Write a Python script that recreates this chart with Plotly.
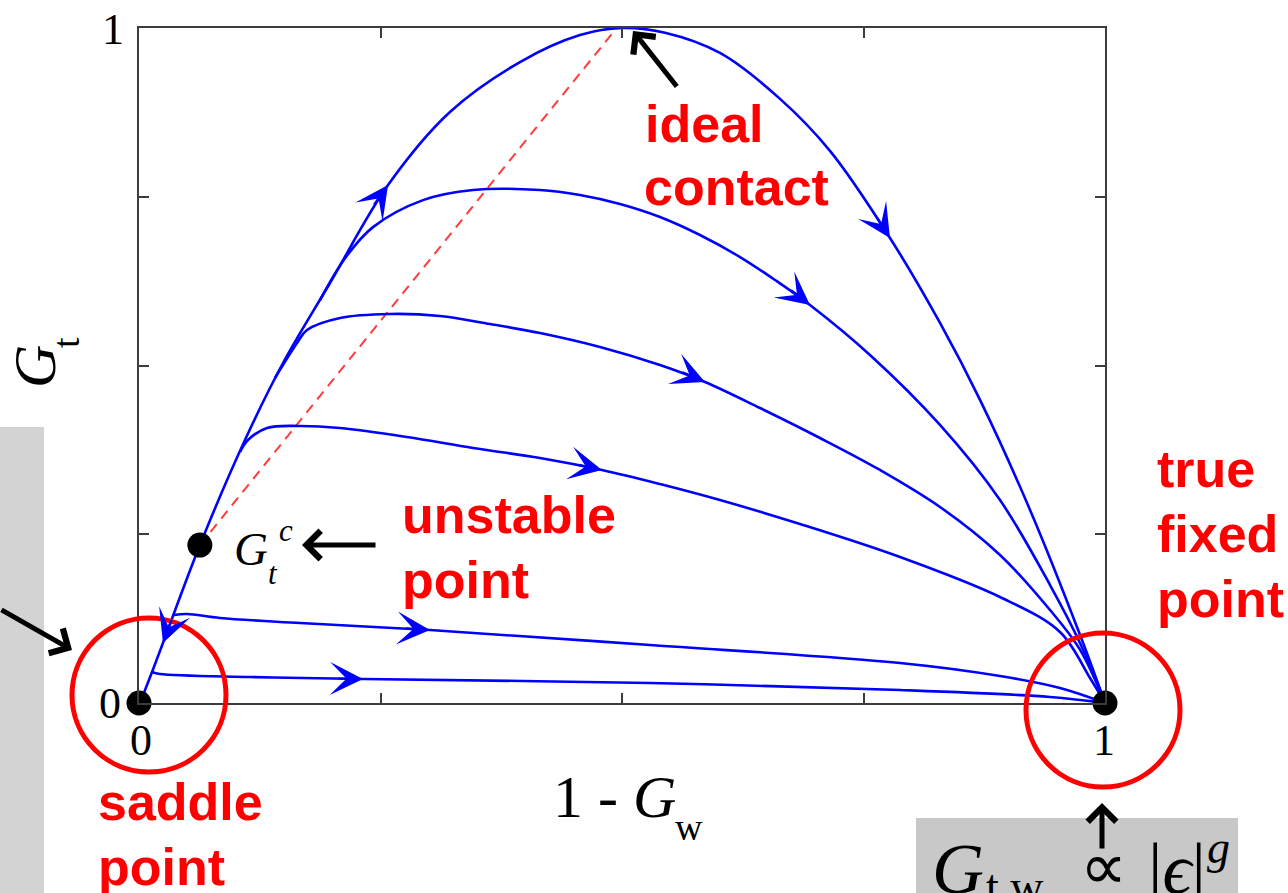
import math
import plotly.graph_objects as go

# ---------------------------------------------------------------- data
# flow trajectories in the (1 - G_w, G_t) plane
sep_x = [0.001, 0.0135, 0.0248, 0.0631, 0.1097, 0.1491, 0.1977, 0.2578, 0.3219,
         0.3944, 0.4565, 0.5, 0.5445, 0.6014, 0.6636, 0.7153, 0.7774, 0.8292,
         0.8706, 0.9224, 0.9741, 1.0]
sep_y = [0.0, 0.046, 0.0889, 0.2341, 0.3896, 0.5037, 0.6222, 0.7674, 0.8756,
         0.9496, 0.9896, 1.0, 0.993, 0.963, 0.895, 0.818, 0.689, 0.563,
         0.449, 0.286, 0.101, 0.0]

flow2_x = [0.1874, 0.2133, 0.2422, 0.294, 0.3458, 0.4151, 0.4565, 0.4979, 0.5393,
           0.5807, 0.6222, 0.6584, 0.6946, 0.7567, 0.8292, 0.8913, 0.9431, 0.9741,
           1.0]
flow2_y = [0.597, 0.659, 0.705, 0.745, 0.760, 0.760, 0.7526, 0.7393, 0.720,
           0.6933, 0.6607, 0.6267, 0.5896, 0.5156, 0.4119, 0.3007, 0.1748, 0.0889,
           0.0]

flow3_x = [0.1408, 0.1636, 0.1739, 0.2081, 0.2598, 0.3116, 0.3634, 0.4151, 0.4772,
           0.5393, 0.5859, 0.6429, 0.705, 0.7671, 0.8292, 0.8913, 0.9431, 0.9741,
           1.0]
flow3_y = [0.4815, 0.5333, 0.5526, 0.5704, 0.5763, 0.5733, 0.5615, 0.5481, 0.5274,
           0.5007, 0.4756, 0.437, 0.3926, 0.3452, 0.2904, 0.2193, 0.1378, 0.079,
           0.0]

flow4_x = [0.1046, 0.1128, 0.1325, 0.1667, 0.2081, 0.2774, 0.3458, 0.4151, 0.4793,
           0.5393, 0.6014, 0.6843, 0.7878, 0.8913, 0.9534, 0.9845, 1.0]
flow4_y = [0.3719, 0.3896, 0.4074, 0.4104, 0.4074, 0.3941, 0.3778, 0.363, 0.3452,
           0.3244, 0.3007, 0.2652, 0.2163, 0.157, 0.1052, 0.037, 0.0]

flow5_x = [0.0362, 0.0497, 0.0839, 0.1667, 0.3012, 0.529, 0.7878, 0.8913, 0.9534,
           1.0]
flow5_y = [0.1304, 0.1319, 0.1259, 0.1185, 0.1081, 0.0859, 0.0593, 0.040, 0.0222,
           0.0]

flow6_x = [0.0135, 0.0217, 0.1149, 0.2319, 0.529, 0.7878, 0.943, 1.0]
flow6_y = [0.0459, 0.043, 0.0385, 0.0356, 0.0296, 0.0193, 0.0089, 0.0]

# fixed points
saddle_pt = (0.0, 0.0)
true_fixed_pt = (1.0, 0.0)
ideal_pt = (0.5, 1.01)
unstable_pt = (0.063, 0.234)

# flow direction markers: (curve, point index, reversed direction)
flow_arrows = [
    ("sep", 7, False), ("sep", 16, False), ("sep", 2, True),
    ("f2", 12, False), ("f3", 10, False), ("f4", 8, False),
    ("f5", 4, False), ("f6", 3, False),
]

# ---------------------------------------------------------------- layout
W, H = 1288, 893
PL, PR, PT, PB = 139, 1105, 28, 703          # plot frame in page pixels
SERIF = "Liberation Serif, Times New Roman, serif"
SANS = "Liberation Sans, Arial, sans-serif"
BLUE = "#0000ff"
RED = "#ff0000"
AXC = "#3c3c3c"


def pp(xp, yp):
    """page pixel -> paper coordinates"""
    return (xp - PL) / (PR - PL), (PB - yp) / (PB - PT)


curves = {
    "sep": (sep_x, sep_y), "f2": (flow2_x, flow2_y), "f3": (flow3_x, flow3_y),
    "f4": (flow4_x, flow4_y), "f5": (flow5_x, flow5_y), "f6": (flow6_x, flow6_y),
}

fig = go.Figure()

# dashed guide from the unstable point to ideal contact
fig.add_trace(go.Scatter(
    x=[unstable_pt[0], ideal_pt[0]], y=[unstable_pt[1], ideal_pt[1]],
    mode="lines", line=dict(color="#ff3b3b", width=2, dash="10px,7px"),
    cliponaxis=False, hoverinfo="skip"))

for name, (cx, cy) in curves.items():
    fig.add_trace(go.Scatter(
        x=cx, y=cy, mode="lines",
        line=dict(color=BLUE, width=2.6, shape="spline", smoothing=1.0),
        cliponaxis=False, hoverinfo="skip"))

fx, fy = zip(saddle_pt, true_fixed_pt, ideal_pt, unstable_pt)
fig.add_trace(go.Scatter(
    x=list(fx), y=list(fy), mode="markers",
    marker=dict(color="black", size=25), cliponaxis=False, hoverinfo="skip"))

annotations = []

# arrowheads along the flow lines
for name, i, rev in flow_arrows:
    cx, cy = curves[name]
    dxp = (cx[i + 1] - cx[i - 1]) * (PR - PL)
    dyp = -(cy[i + 1] - cy[i - 1]) * (PB - PT)
    n = math.hypot(dxp, dyp)
    ux, uy = dxp / n, dyp / n
    if rev:
        ux, uy = -ux, -uy
    annotations.append(dict(
        x=cx[i], y=cy[i], xref="x", yref="y", text="", showarrow=True,
        ax=-ux * 26, ay=-uy * 26, arrowhead=3, arrowsize=2.3,
        arrowwidth=2.4, arrowcolor=BLUE))


def black_arrow(tip, tail):
    x, y = pp(*tip)
    annotations.append(dict(
        x=x, y=y, xref="paper", yref="paper", text="", showarrow=True,
        ax=tail[0] - tip[0], ay=tail[1] - tip[1], arrowhead=4,
        arrowsize=1.1, arrowwidth=5, arrowcolor="black"))


black_arrow((633, 31), (678, 88))
black_arrow((302, 545), (377, 545))
black_arrow((72, 650), (-6, 609))
black_arrow((1102, 803), (1102, 850))


def text(s, xp, yp, size, family=SERIF, color="black", xanchor="left",
         angle=0):
    x, y = pp(xp, yp)
    annotations.append(dict(
        x=x, y=y, xref="paper", yref="paper", text=s, showarrow=False,
        xanchor=xanchor, yanchor="middle", textangle=angle,
        font=dict(family=family, size=size, color=color)))


# red labels
for s, xp, yp in [("ideal", 643, 124), ("contact", 642, 187),
                  ("unstable", 400, 515), ("point", 400, 580),
                  ("true", 1155, 469), ("fixed", 1155, 534), ("point", 1155, 599),
                  ("saddle", 96, 802), ("point", 96, 867)]:
    text("<b>" + s + "</b>", xp, yp, 52, SANS, RED)

# tick labels
text("1", 113, 30, 44, xanchor="center")
text("0", 110, 703, 44, xanchor="center")
text("0", 141, 740, 44, xanchor="center")
text("1", 1104, 740, 44, xanchor="center")

# axis titles
text("1 - <i>G</i>", 551, 797, 60)
text("w", 673, 827, 38)
text("<i>G</i>", 35, 367, 60, xanchor="center", angle=-90)
text("t", 66, 343, 38, xanchor="center", angle=-90)

# unstable point label
text("<i>G</i>", 232, 549, 47)
text("<i>c</i>", 277, 530, 31)
text("<i>t</i>", 266, 573, 31)

# scaling relation near the true fixed point
text("<i>G</i>", 930, 869, 72)
text("t,w", 984, 886, 46)
text("\u221d", 1078, 866, 66)
text("|<i>\u03f5</i>|", 1146, 869, 72)
text("<i>g</i>", 1205, 847, 46)

# highlight circles and grey panels
shapes = []
for cxp, cyp in [(149, 695), (1103, 710)]:
    x0, y0 = pp(cxp - 77, cyp + 77)
    x1, y1 = pp(cxp + 77, cyp - 77)
    shapes.append(dict(type="circle", xref="paper", yref="paper",
                       x0=x0, y0=y0, x1=x1, y1=y1,
                       line=dict(color=RED, width=5), layer="above"))

for (xa, ya, xb, yb, col) in [(0, 427, 44, 893, "#d3d3d3"),
                              (916, 818, 1238, 893, "#c8c8c8")]:
    x0, y0 = pp(xa, yb)
    x1, y1 = pp(xb, ya)
    shapes.append(dict(type="rect", xref="paper", yref="paper",
                       x0=x0, y0=y0, x1=x1, y1=y1,
                       line=dict(width=0), fillcolor=col, layer="below"))

axis_common = dict(
    range=[0, 1], showgrid=False, zeroline=False, showline=True,
    linecolor=AXC, linewidth=2, mirror="ticks", ticks="inside",
    ticklen=10, tickwidth=1.5, tickcolor=AXC,
    tickvals=[0.25, 0.5, 0.75], showticklabels=False)

fig.update_layout(
    width=W, height=H, autosize=False,
    margin=dict(l=PL, r=W - PR, t=PT, b=H - PB),
    paper_bgcolor="white", plot_bgcolor="white",
    showlegend=False,
    xaxis=axis_common, yaxis=axis_common,
    annotations=annotations, shapes=shapes)

fig.write_html("out.html")
